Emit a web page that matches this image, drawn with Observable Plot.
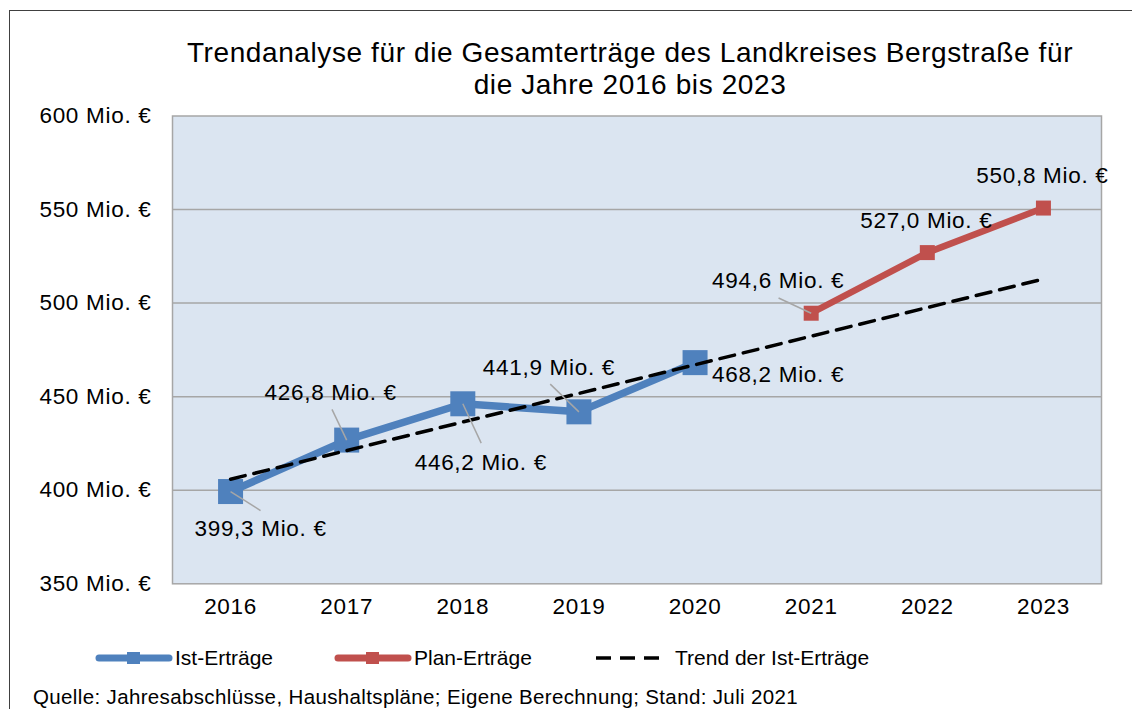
<!DOCTYPE html>
<html>
<head>
<meta charset="utf-8">
<script src="https://cdn.jsdelivr.net/npm/d3@7"></script>
<script src="https://cdn.jsdelivr.net/npm/@observablehq/plot@0.6"></script>
<style>
  html, body { margin: 0; padding: 0; background: #fff; }
  #page { position: relative; width: 1132px; height: 709px; overflow: hidden; font-family: Arial, "Liberation Sans", sans-serif; color: #000; }
  #frameTop { position: absolute; left: 9px; top: 10px; width: 1123px; height: 0; border-top: 1.5px solid #404040; }
  #frameLeft { position: absolute; left: 9px; top: 10px; width: 0; height: 699px; border-left: 1.5px solid #404040; }
  #title { position: absolute; left: 130px; top: 37px; width: 1000px; text-align: center; font-size: 28px; line-height: 32px; letter-spacing: 0.6px; }
  #chart { position: absolute; left: 0; top: 100px; }
  #chart svg text { letter-spacing: 0.7px; }
  .leg { position: absolute; top: 646px; font-size: 21px; line-height: 24px; white-space: nowrap; }
  .sw { position: absolute; top: 648px; }
  #caption { position: absolute; left: 33px; top: 685px; font-size: 20.5px; line-height: 24px; letter-spacing: 0.36px; white-space: nowrap; }
</style>
</head>
<body>
<div id="page">
  <div id="frameTop"></div>
  <div id="frameLeft"></div>
  <div id="title">Trendanalyse für die Gesamterträge des Landkreises Bergstraße für<br>die Jahre 2016 bis 2023</div>
  <div id="chart"></div>
  <svg class="sw" style="left:94px" width="80" height="20"><line x1="5" y1="10" x2="75" y2="10" stroke="#4f81bd" stroke-width="7" stroke-linecap="round"/><rect x="33" y="4" width="13" height="12" fill="#4f81bd"/></svg>
  <span class="leg" style="left:175px">Ist-Erträge</span>
  <svg class="sw" style="left:333px" width="80" height="20"><line x1="5" y1="10" x2="75" y2="10" stroke="#c0504d" stroke-width="7" stroke-linecap="round"/><rect x="33" y="4" width="13" height="12" fill="#c0504d"/></svg>
  <span class="leg" style="left:414px">Plan-Erträge</span>
  <svg class="sw" style="left:594px" width="80" height="20"><line x1="2" y1="10" x2="74" y2="10" stroke="#000" stroke-width="3.5" stroke-dasharray="15,9"/></svg>
  <span class="leg" style="left:675px">Trend der Ist-Erträge</span>
  <div id="caption">Quelle: Jahresabschlüsse, Haushaltspläne; Eigene Berechnung; Stand: Juli 2021</div>
</div>
<script>
// ---- data ----
const years = [2016, 2017, 2018, 2019, 2020, 2021, 2022, 2023];
const istYears = [2016, 2017, 2018, 2019, 2020];
const istValues = [399.3, 426.8, 446.2, 441.9, 468.2];
const planYears = [2021, 2022, 2023];
const planValues = [494.6, 527.0, 550.8];
const trendYears = [2016, 2023];
const trendValues = [405.9, 512.9];
const yTicks = [350, 400, 450, 500, 550, 600];

// ---- layout (pixels) ----
const W = 1132, H = 525, mL = 172, mR = 31, mT = 15.5, mB = 41.7;
const pxPerYear = (W - mL - mR) / 8;
const pxPerUnit = (H - mT - mB) / 250;
// label offsets [dx, dy] from each point (in order of years)
const labelOffsets = [[30, 37], [-16, -47], [18, 59], [-30, -44], [83, 12], [-33, -32], [-1, -32], [-1, -32]];
// leader line end offsets [dx, dy] (null = none)
const leaderOffsets = [[30, 19], [-14.7, -30.7], [18.4, 39.3], [-28.7, -27.7], null, [-32.6, -15.2], null, null];

const ist = istYears.map((y, i) => ({year: y, value: istValues[i]}));
const plan = planYears.map((y, i) => ({year: y, value: planValues[i]}));
const trend = trendYears.map((y, i) => ({year: y, value: trendValues[i]}));
const all = ist.concat(plan);
const fmt = v => v.toFixed(1).replace(".", ",") + " Mio. €";

const leaders = all.map((d, i) => leaderOffsets[i] ? {
  x1: d.year, y1: d.value,
  x2: d.year + leaderOffsets[i][0] / pxPerYear,
  y2: d.value - leaderOffsets[i][1] / pxPerUnit
} : null).filter(d => d);

const sq = side => side / Math.sqrt(Math.PI);

const chart = Plot.plot({
  width: W, height: H,
  marginLeft: mL, marginRight: mR, marginTop: mT, marginBottom: mB,
  style: {fontFamily: 'Arial, "Liberation Sans", sans-serif', fontSize: "22.5px", color: "#000", background: "transparent"},
  x: {type: "linear", domain: [2015.5, 2023.5], ticks: years, tickFormat: d => String(d), tickSize: 0, tickPadding: 14, label: null},
  y: {domain: [350, 600], ticks: yTicks, tickFormat: d => d + " Mio. €", tickSize: 0, tickPadding: 21, label: null},
  marks: [
    Plot.frame({fill: "#dbe5f1", stroke: "none"}),
    Plot.ruleY(yTicks.slice(1, -1), {stroke: "#a6a6a6", strokeWidth: 1.5, strokeOpacity: 1}),
    Plot.frame({stroke: "#a6a6a6", strokeWidth: 1.5, strokeOpacity: 1}),
    Plot.line(ist, {x: "year", y: "value", stroke: "#4f81bd", strokeWidth: 7.5}),
    Plot.dot(ist, {x: "year", y: "value", symbol: "square", r: sq(25), fill: "#4f81bd", stroke: "none"}),
    Plot.line(plan, {x: "year", y: "value", stroke: "#c0504d", strokeWidth: 6.5}),
    Plot.dot(plan, {x: "year", y: "value", symbol: "square", r: sq(15), fill: "#c0504d", stroke: "none"}),
    Plot.line(trend, {x: "year", y: "value", stroke: "#000", strokeWidth: 3.5, strokeDasharray: "15,9"}),
    Plot.link(leaders, {x1: "x1", y1: "y1", x2: "x2", y2: "y2", stroke: "#a6a6a6", strokeWidth: 1.5}),
    ...all.map((d, i) => Plot.text([d], {
      x: "year", y: "value", text: d => fmt(d.value),
      dx: labelOffsets[i][0], dy: labelOffsets[i][1],
      textAnchor: "middle", lineAnchor: "middle", fontSize: 22.5, fill: "#000"
    }))
  ]
});
document.getElementById("chart").appendChild(chart);
</script>
</body>
</html>
